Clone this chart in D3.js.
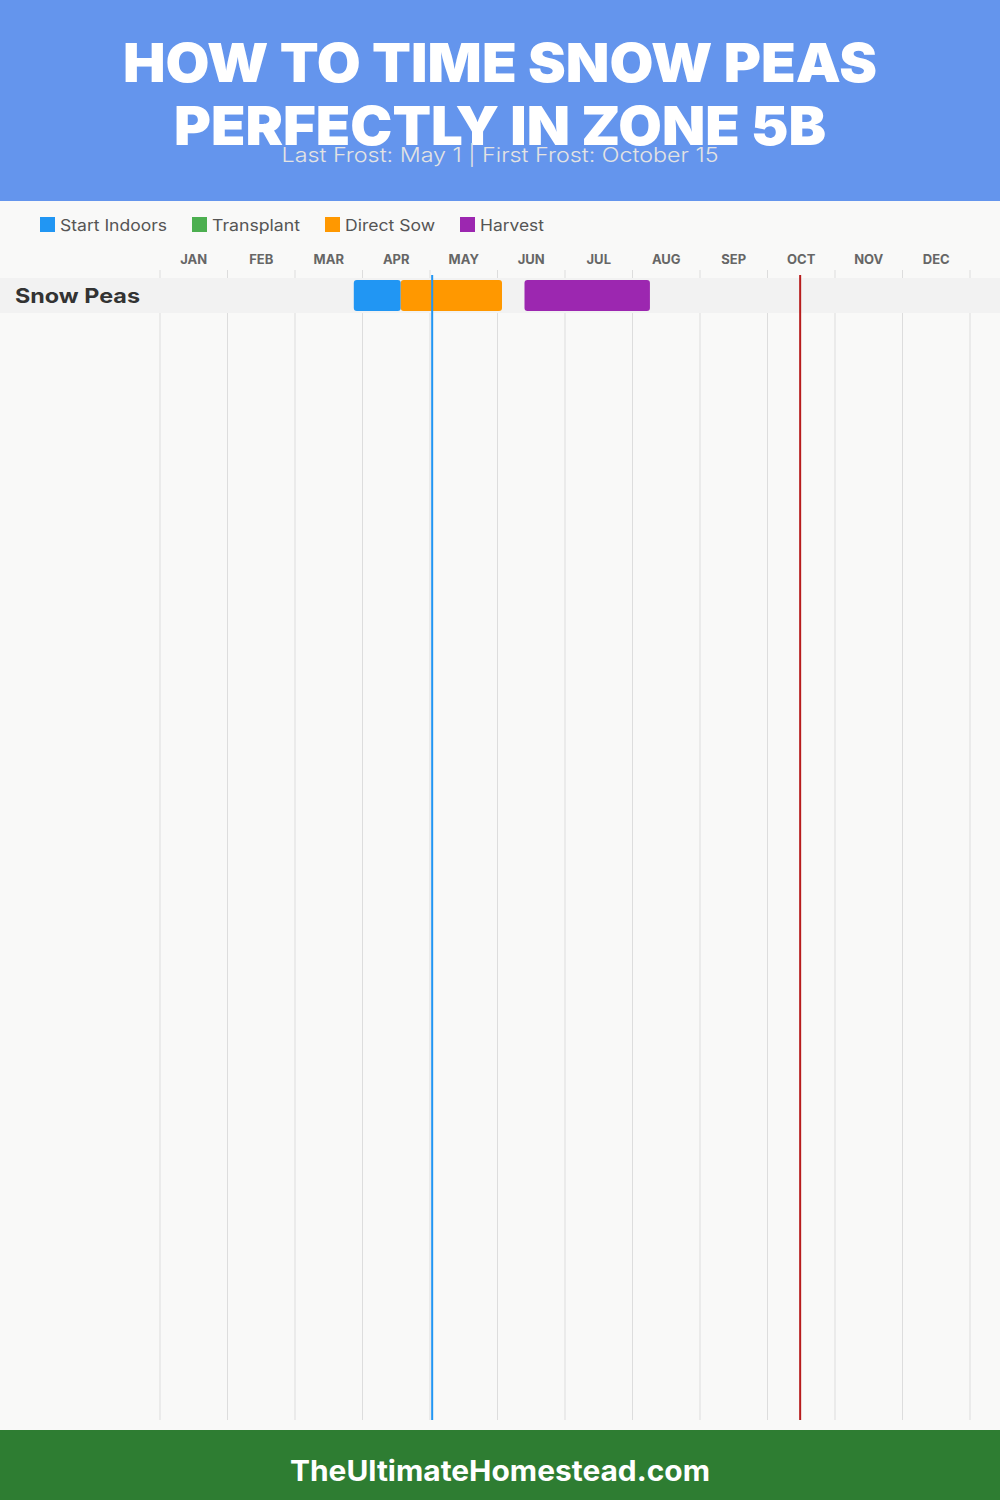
<!DOCTYPE html>
<html>
<head>
<meta charset="utf-8">
<script src="https://cdn.jsdelivr.net/npm/d3@7"></script>
<style>
  html, body { margin: 0; padding: 0; background: #f9f9f8; }
  svg { display: block; }
</style>
</head>
<body>
<svg id="chart" width="1000" height="1500"></svg>
<script>
// ---------- data ----------
const months = ["JAN","FEB","MAR","APR","MAY","JUN","JUL","AUG","SEP","OCT","NOV","DEC"];
const crops = ["Snow Peas"];
const legendLabels = ["Start Indoors", "Transplant", "Direct Sow", "Harvest"];
const legendColors = ["#2196F3", "#4CAF50", "#FF9800", "#9C27B0"];
// [crop, phase, start (MM-DD), end (MM-DD)]
const tasks = [
  ["Snow Peas", "Start Indoors", "03-27", "04-17"],
  ["Snow Peas", "Direct Sow",    "04-17", "06-02"],
  ["Snow Peas", "Harvest",       "06-12", "08-08"]
];
const lastFrost = "05-01";
const firstFrost = "10-15";
const titleLines = ["HOW TO TIME SNOW PEAS", "PERFECTLY IN ZONE 5B"];
const subtitle = "Last Frost: May 1 | First Frost: October 15";
const footerText = "TheUltimateHomestead.com";

// ---------- helpers ----------
const daysIn = [31,28,31,30,31,30,31,31,30,31,30,31];
function monthPos(md) {
  const [m, d] = md.split("-").map(Number);
  return (m - 1) + d / daysIn[m - 1];
}

const svg = d3.select("#chart");
const W = 1000, H = 1500;
const font = "Inter, 'Open Sans', 'DejaVu Sans', sans-serif";

svg.append("rect").attr("width", W).attr("height", H).attr("fill", "#f9f9f8");

// header
svg.append("rect").attr("x", 0).attr("y", 0).attr("width", W).attr("height", 201).attr("fill", "#6495ED");
const titleWidths = [754, 652];
const titleBase = [82, 145];
titleLines.forEach((t, i) => {
  svg.append("text")
    .attr("x", W / 2).attr("y", titleBase[i])
    .attr("text-anchor", "middle")
    .attr("font-family", font).attr("font-weight", 900).attr("font-size", 54)
    .attr("fill", "#ffffff")
    .attr("textLength", titleWidths[i]).attr("lengthAdjust", "spacingAndGlyphs")
    .text(t);
});
svg.append("text")
  .attr("x", W / 2).attr("y", 162)
  .attr("text-anchor", "middle")
  .attr("font-family", font).attr("font-weight", 300).attr("font-size", 20)
  .attr("fill", "#e3e3e3")
  .attr("textLength", 437).attr("lengthAdjust", "spacingAndGlyphs")
  .text(subtitle);

// legend
const legendX = [40, 192, 325, 460];
const legendW = [107, 88, 90, 64];
const lg = svg.append("g");
legendLabels.forEach((l, i) => {
  lg.append("rect").attr("x", legendX[i]).attr("y", 217).attr("width", 15).attr("height", 15).attr("fill", legendColors[i]);
  lg.append("text").attr("x", legendX[i] + 20).attr("y", 225).attr("dy", "0.35em")
    .attr("font-family", font).attr("font-size", 16).attr("fill", "#555")
    .attr("textLength", legendW[i]).attr("lengthAdjust", "spacingAndGlyphs")
    .text(l);
});

// scales
const x = d3.scaleLinear().domain([0, 12]).range([160, 970]);
const y = d3.scaleBand().domain(crops).range([278, 313]);
const color = d3.scaleOrdinal().domain(legendLabels).range(legendColors);

// gridlines
svg.append("g").selectAll("line").data(d3.range(0, 13)).join("line")
  .attr("x1", d => x(d)).attr("x2", d => x(d))
  .attr("y1", 270).attr("y2", 1420)
  .attr("stroke", "#dddddd").attr("stroke-width", 1);

// month labels
svg.append("g").selectAll("text").data(months).join("text")
  .attr("x", (d, i) => x(i + 0.5)).attr("y", 259).attr("dy", "0.35em")
  .attr("text-anchor", "middle")
  .attr("font-family", font).attr("font-weight", 700).attr("font-size", 13)
  .attr("fill", "#666").text(d => d);

// row bands
svg.append("g").selectAll("rect").data(crops).join("rect")
  .attr("x", 0).attr("width", W)
  .attr("y", d => y(d)).attr("height", y.bandwidth())
  .attr("fill", "#f2f2f2");

// row labels
svg.append("g").selectAll("text").data(crops).join("text")
  .attr("x", 15).attr("y", d => y(d) + y.bandwidth() / 2).attr("dy", "0.35em")
  .attr("font-family", font).attr("font-weight", 700).attr("font-size", 20)
  .attr("fill", "#333")
  .attr("textLength", 125).attr("lengthAdjust", "spacingAndGlyphs")
  .text(d => d);

// bars
svg.append("g").selectAll("rect").data(tasks).join("rect")
  .attr("x", d => x(monthPos(d[2])))
  .attr("width", d => x(monthPos(d[3])) - x(monthPos(d[2])))
  .attr("y", d => y(d[0]) + 2).attr("height", y.bandwidth() - 4)
  .attr("rx", 3).attr("ry", 3)
  .attr("fill", d => color(d[1]));

// frost lines
svg.append("line")
  .attr("x1", x(monthPos(lastFrost))).attr("x2", x(monthPos(lastFrost)))
  .attr("y1", 275).attr("y2", 1420)
  .attr("stroke", "#2196F3").attr("stroke-width", 2);
svg.append("line")
  .attr("x1", x(monthPos(firstFrost))).attr("x2", x(monthPos(firstFrost)))
  .attr("y1", 275).attr("y2", 1420)
  .attr("stroke", "#B71C1C").attr("stroke-width", 2);

// footer
svg.append("rect").attr("x", 0).attr("y", 1430).attr("width", W).attr("height", 70).attr("fill", "#2E7D32");
svg.append("text")
  .attr("x", W / 2).attr("y", 1471).attr("dy", "0.35em")
  .attr("text-anchor", "middle")
  .attr("font-family", font).attr("font-weight", 700).attr("font-size", 28)
  .attr("fill", "#fff")
  .attr("textLength", 420).attr("lengthAdjust", "spacingAndGlyphs")
  .text(footerText);
</script>
</body>
</html>
